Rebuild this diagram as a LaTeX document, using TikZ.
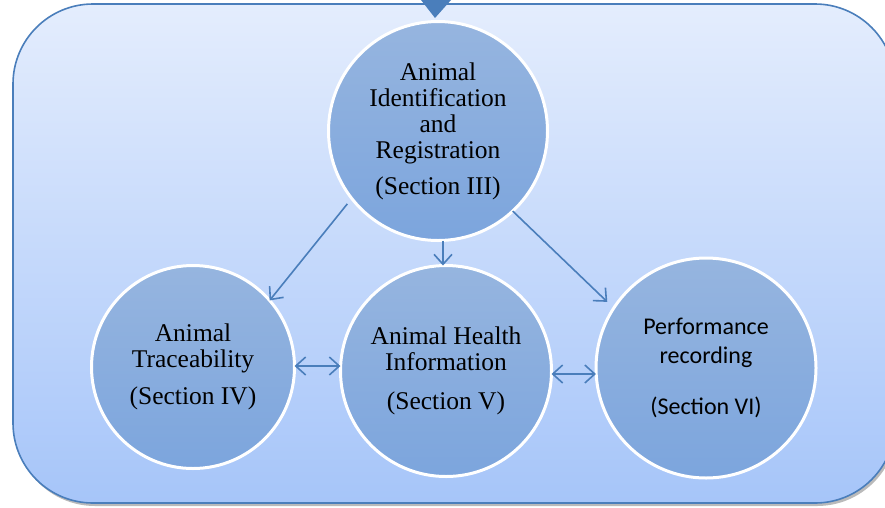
\documentclass[tikz,border=0pt]{standalone}
\usepackage{fontspec}
\setmainfont{Liberation Serif}
\newfontfamily\calib{Carlito}
\usetikzlibrary{arrows.meta,shadows}
\definecolor{boxline}{RGB}{74,126,187}
\definecolor{boxtop}{RGB}{228,237,253}
\definecolor{boxbot}{RGB}{166,197,249}
\definecolor{circtop}{RGB}{150,181,223}
\definecolor{circbot}{RGB}{124,165,221}
\definecolor{arrowc}{RGB}{74,126,187}
\tikzset{
  outerbox/.style={draw=boxline, line width=1.6pt, rounded corners=80pt,
    top color=boxtop, bottom color=boxbot,
    drop shadow={shadow xshift=2pt, shadow yshift=-3pt, opacity=0.45, fill=black!60}},
  circ/.style={circle, draw=white, line width=3pt, top color=circtop, bottom color=circbot,
    align=center, text=black, inner sep=0pt, outer sep=0pt},
  serif/.style={font=\fontsize{25.5}{26}\selectfont},
  sans/.style={font=\calib\fontsize{24}{29}\selectfont},
  conn/.style={draw=arrowc, line width=1.6pt, -{Straight Barb[length=10pt,width=18pt]}},
  dconn/.style={draw=arrowc, line width=1.6pt, {Straight Barb[length=10pt,width=18pt]}-{Straight Barb[length=10pt,width=18pt]}},
  toptri/.style={fill=boxline, draw=none}
}
\begin{document}
\begin{tikzpicture}[x=1pt,y=-1pt]
\useasboundingbox (0,0) rectangle (885,507);
\clip (0,0) rectangle (885,507);
\fill[white] (0,0) rectangle (885,507);
\path[outerbox] (13,4) rectangle (895,503);
\fill[toptri] (421,0) -- (451,0) -- (435,18) -- cycle;

\node[circ, serif, minimum size=219pt] (top) at (438,131)
  {Animal\\Identification\\and\\Registration\\[10pt](Section III)};
\node[circ, serif, minimum size=203pt] (left) at (193,367)
  {Animal\\Traceability\\[11pt](Section IV)};
\node[circ, serif, minimum size=211pt] (mid) at (446,371)
  {Animal Health\\Information\\[13pt](Section V)};
\node[circ, sans, minimum size=220pt] (right) at (706,368)
  {Performance\\recording\\[22pt](Section VI)};

\draw[conn, shorten <=7pt] (top.218) -- (left.41);
\draw[conn] ([xshift=5pt]top.south) -- ([xshift=-3pt]mid.north);
\draw[conn, shorten >=9pt] (top.-47.5) -- (right.147);
\draw[dconn] ([yshift=1pt]left.east) -- ([yshift=1pt]left.east -| mid.west);
\draw[dconn] ([yshift=-3pt]mid.east) -- ([yshift=-3pt]mid.east -| right.west);
\end{tikzpicture}
\end{document}
